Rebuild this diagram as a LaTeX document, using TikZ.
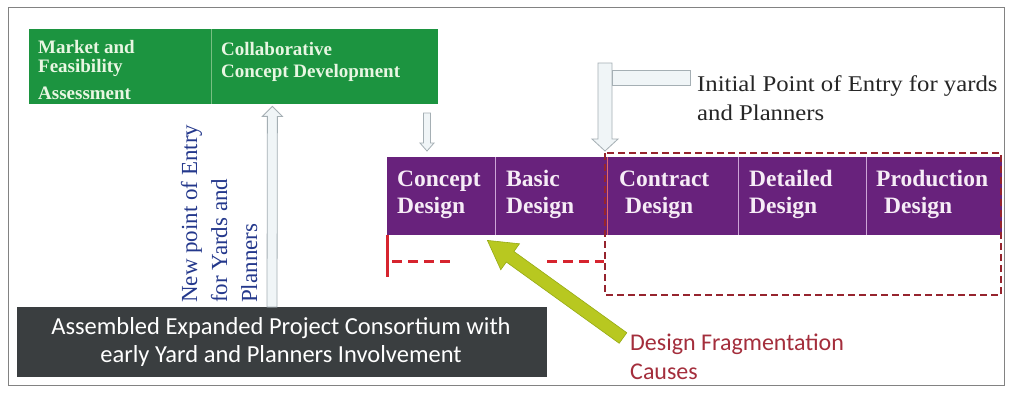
\documentclass[tikz,border=0pt]{standalone}
\usepackage{fontspec}
\setmainfont{Liberation Serif}
\newfontfamily\bodysans{Carlito}
\newfontfamily\wideserif[FakeStretch=1.1]{Liberation Serif}
\usetikzlibrary{arrows.meta,calc}

\definecolor{barGreen}{RGB}{28,148,64}
\definecolor{barGreenText}{RGB}{232,246,226}
\definecolor{barGreenRule}{RGB}{120,190,130}
\definecolor{phasePurple}{RGB}{104,34,124}
\definecolor{phaseText}{RGB}{246,236,246}
\definecolor{phaseRule}{RGB}{205,165,215}
\definecolor{slate}{RGB}{58,62,64}
\definecolor{frameRed}{RGB}{150,36,46}
\definecolor{markRed}{RGB}{214,36,46}
\definecolor{limeArrow}{RGB}{184,200,32}
\definecolor{limeEdge}{RGB}{150,170,20}
\definecolor{noteBlue}{RGB}{36,56,140}
\definecolor{causeRose}{RGB}{164,46,60}
\definecolor{paleFill}{RGB}{240,245,247}
\definecolor{paleEdge}{RGB}{165,175,180}
\definecolor{frameGray}{RGB}{130,130,130}

% block arrow: style, tail, tip, shaft half width, head half width, head length
\newcommand\blockarrow[6]{%
  \coordinate (ba-neck) at ($(#3)!#6!(#2)$);
  \path[#1]
    ($(#2)!#4!90:(#3)$) -- ($(ba-neck)!#4!90:(#3)$) --
    ($(ba-neck)!#5!90:(#3)$) -- (#3) --
    ($(ba-neck)!#5!-90:(#3)$) -- ($(ba-neck)!#4!-90:(#3)$) --
    ($(#2)!#4!-90:(#3)$) -- cycle;}

\begin{document}
\begin{tikzpicture}[x=1pt,y=-1pt,
  greencell/.style={fill=barGreen, inner sep=0, anchor=north west, minimum height=75pt},
  phasecell/.style={fill=phasePurple, inner sep=0, anchor=north west, minimum height=78pt},
  greentext/.style={anchor=base west, inner sep=0, text=barGreenText,
    font=\bfseries\fontsize{19}{23}\selectfont},
  phasetext/.style={anchor=base west, inner sep=0, text=phaseText,
    font=\bfseries\fontsize{23.5}{27}\selectfont},
  slatetext/.style={anchor=base, inner sep=0, text=white,
    font=\bodysans\fontsize{24.5}{28}\selectfont},
  notetext/.style={anchor=base west, inner sep=0, text=black!85,
    font=\wideserif\fontsize{22.5}{29}\selectfont},
  sidetext/.style={anchor=base west, inner sep=0, rotate=90, text=noteBlue,
    font=\fontsize{23}{30}\selectfont},
  causetext/.style={anchor=base west, inner sep=0, text=causeRose,
    font=\bodysans\fontsize{24}{29}\selectfont},
  palearrow/.style={fill=paleFill, draw=paleEdge, line width=0.8pt},
  limearrow/.style={fill=limeArrow, draw=limeEdge, line width=0.6pt},
  fragbox/.style={draw=frameRed, line width=2.2pt, dash pattern=on 7pt off 4pt},
  fragmark/.style={draw=markRed, line width=3pt, dash pattern=on 10pt off 6pt},
  cellrule/.style={line width=1pt}]

\useasboundingbox (0,0) rectangle (1009,392);
\fill[white] (0,0) rectangle (1009,392);
\draw[frameGray, line width=1pt] (8,7) rectangle (1004,385);

% early-stage green bar
\node[greencell, minimum width=182pt] (market) at (29,29) {};
\node[greencell, minimum width=226pt] (collab) at (market.north east) {};
\draw[cellrule, barGreenRule] (market.north east) -- (market.south east);
\node[greentext] (marketA) at (38,53) {Market and};
\node[greentext] (marketB) at (38,72) {Feasibility};
\node[greentext] (marketC) at (38,99) {Assessment};
\node[greentext] (collabA) at (221,55) {Collaborative};
\node[greentext] (collabB) at (221,77) {Concept Development};

% design phases
\node[phasecell, minimum width=108pt] (concept) at (387,157) {};
\node[phasecell, minimum width=112pt] (basic) at (concept.north east) {};
\node[phasecell, minimum width=130pt] (contract) at (basic.north east) {};
\node[phasecell, minimum width=128pt] (detailed) at (contract.north east) {};
\node[phasecell, minimum width=135pt] (production) at (detailed.north east) {};
\foreach \c in {concept,contract,detailed}
  \draw[cellrule, phaseRule] (\c.north east) -- (\c.south east);
\draw[cellrule, markRed!70!white] (basic.north east) -- (basic.south east);

\node[phasetext] (conceptA) at (397,186) {Concept};
\node[phasetext] (conceptB) at (397,213) {Design};
\node[phasetext] (basicA) at (506,186) {Basic};
\node[phasetext] (basicB) at (506,213) {Design};
\node[phasetext] (contractA) at (619,186) {Contract};
\node[phasetext] (contractB) at (625,213) {Design};
\node[phasetext] (detailedA) at (749,186) {Detailed};
\node[phasetext] (detailedB) at (749,213) {Design};
\node[phasetext] (productionA) at (876,186) {Production};
\node[phasetext] (productionB) at (884,213) {Design};

% fragmented late-stage design
\draw[fragbox] (605,153) rectangle (1001,295);
\draw[markRed, line width=3pt] (concept.south west) -- ++(0,42);
\draw[fragmark] (392,261) -- (452,261);
\draw[fragmark] (547,261) -- (604,261);

% consortium box
\node[fill=slate, inner sep=0, anchor=north west, minimum width=530pt, minimum height=70pt]
  (consortium) at (17,307) {};
\node[slatetext] (consA) at (281,334) {Assembled Expanded Project Consortium with};
\node[slatetext] (consB) at (281,362) {early Yard and Planners Involvement};

% new point of entry
\node[sidetext] (newA) at (197,303) {New point of Entry};
\node[sidetext] (newB) at (227,303) {for Yards and};
\node[sidetext] (newC) at (257,303) {Planners};
\coordinate (newFoot) at ($(consortium.north west)+(255,0)$);
\coordinate (newTip) at ($(collab.south west)+(61,2)$);
\blockarrow{palearrow}{newFoot}{newTip}{5pt}{10pt}{10pt}

% hand-over from concept development to concept design
\coordinate (handFoot) at (427,113);
\coordinate (handTip) at ($(concept.north west)+(40,-6)$);
\blockarrow{palearrow}{handFoot}{handTip}{3.5pt}{7pt}{8pt}

% initial point of entry
\node[notetext] (initA) at (697,91) {Initial Point of Entry for yards};
\node[notetext] (initB) at (697,120) {and Planners};
\coordinate (initFoot) at (605,63);
\coordinate (initTip) at (605,151);
\blockarrow{palearrow}{initFoot}{initTip}{7pt}{13pt}{12pt}
\draw[palearrow] (612,70) rectangle (690,85);

% fragmentation pointer
\node[causetext] (causeA) at (630,350) {Design Fragmentation};
\node[causetext] (causeB) at (630,379) {Causes};
\coordinate (limeFoot) at (623,338);
\coordinate (limeTip) at ($(concept.south east)+(-8,5)$);
\blockarrow{limearrow}{limeFoot}{limeTip}{6.5pt}{16pt}{28pt}
\end{tikzpicture}
\end{document}
